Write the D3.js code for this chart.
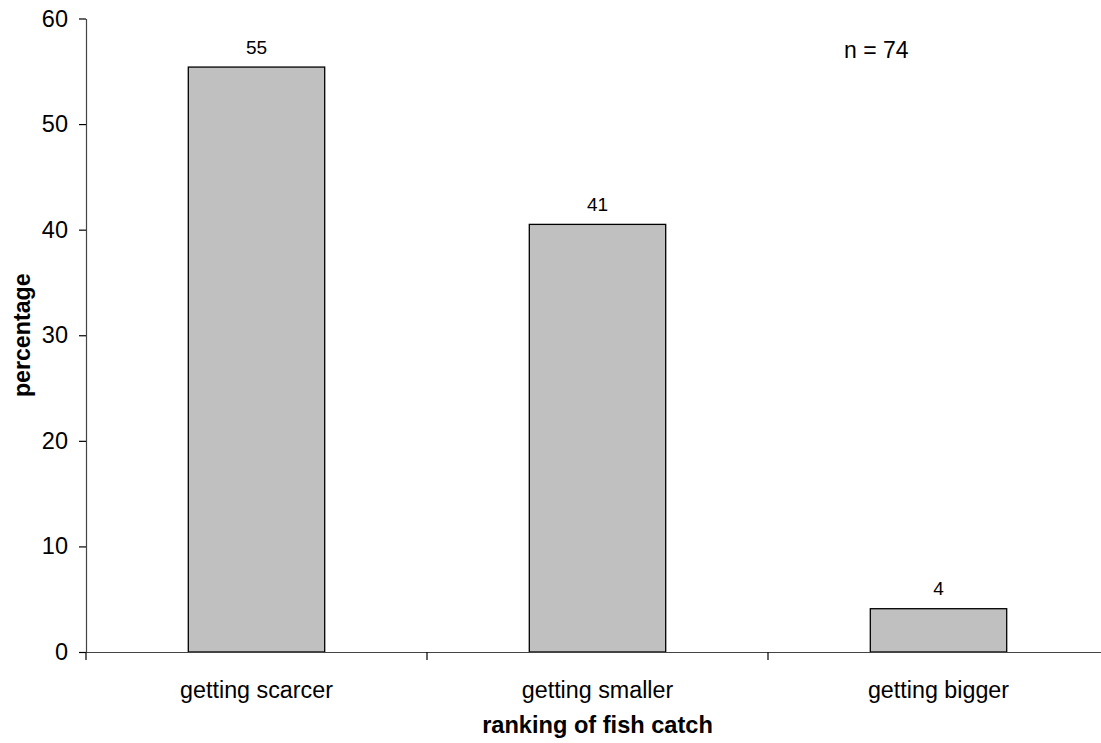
<!DOCTYPE html>
<html>
<head>
<meta charset="utf-8">
<script src="https://cdn.jsdelivr.net/npm/d3@7"></script>
<style>
  html, body { margin: 0; padding: 0; background: #fff; }
  svg { display: block; font-family: "Liberation Sans", Arial, sans-serif; }
</style>
</head>
<body>
<svg id="chart" width="1101" height="743"></svg>
<script>
const categories = ["getting scarcer", "getting smaller", "getting bigger"];
const values = [55.4, 40.5, 4.1];
const valueLabels = ["55", "41", "4"];
const yTicks = [0, 10, 20, 30, 40, 50, 60];
const xTitle = "ranking of fish catch";
const yTitle = "percentage";
const note = "n = 74";

(function () {
const svg = d3.select("#chart");
const mLeft = 86, mTop = 18.5, mBottom = 652, mRight = 1109;

const x = d3.scaleBand().domain(categories).range([mLeft, mRight]).padding(0);
const y = d3.scaleLinear().domain([0, 60]).range([mBottom, mTop]);

// bars
const barW = x.bandwidth() * 0.4;
svg.append("g").selectAll("rect").data(values).join("rect")
  .attr("x", (d, i) => x(categories[i]) + (x.bandwidth() - barW) / 2)
  .attr("y", d => y(d))
  .attr("width", barW)
  .attr("height", d => y(0) - y(d))
  .attr("fill", "#c0c0c0")
  .attr("stroke", "#000")
  .attr("stroke-width", 1.3);

// value labels
svg.append("g").selectAll("text").data(values).join("text")
  .attr("x", (d, i) => x(categories[i]) + x.bandwidth() / 2)
  .attr("y", d => y(d) - 13.5)
  .attr("text-anchor", "middle")
  .attr("font-size", 19)
  .attr("fill", "#000")
  .text((d, i) => valueLabels[i]);

// y axis
const yAxis = svg.append("g").attr("transform", `translate(${mLeft},0)`)
  .call(d3.axisLeft(y).tickValues(yTicks).tickSize(7).tickSizeOuter(0).tickPadding(11));
yAxis.select(".domain").attr("stroke", "#444").attr("stroke-width", 1.2);
yAxis.selectAll(".tick line").attr("stroke", "#000").attr("stroke-width", 1.2);
yAxis.selectAll(".tick text").attr("font-size", 23.5).attr("fill", "#000")
  .attr("font-family", "Liberation Sans, Arial, sans-serif");

// x axis
const xAxis = svg.append("g").attr("transform", `translate(0,${mBottom})`)
  .call(d3.axisBottom(x).tickSize(0).tickSizeOuter(0).tickPadding(29));
xAxis.select(".domain").attr("stroke", "#444").attr("stroke-width", 1.2);
xAxis.selectAll(".tick text").attr("font-size", 23.3).attr("fill", "#000")
  .attr("font-family", "Liberation Sans, Arial, sans-serif");
const boundaries = categories.map(c => x(c)).concat([x(categories[categories.length - 1]) + x.bandwidth()]);
xAxis.selectAll(".bound").data(boundaries).join("line")
  .attr("class", "bound")
  .attr("x1", d => d).attr("x2", d => d)
  .attr("y1", 0).attr("y2", 8)
  .attr("stroke", "#000").attr("stroke-width", 1.2);

// titles
svg.append("text")
  .attr("x", (mLeft + mRight) / 2).attr("y", 733)
  .attr("text-anchor", "middle").attr("font-size", 23.6).attr("font-weight", "bold")
  .text(xTitle);
svg.append("text")
  .attr("transform", `translate(30, ${(mTop + mBottom) / 2}) rotate(-90)`)
  .attr("text-anchor", "middle").attr("font-size", 23.2).attr("font-weight", "bold")
  .text(yTitle);
svg.append("text")
  .attr("x", 844).attr("y", 58.3)
  .attr("font-size", 23)
  .text(note);
})();
</script>
</body>
</html>
